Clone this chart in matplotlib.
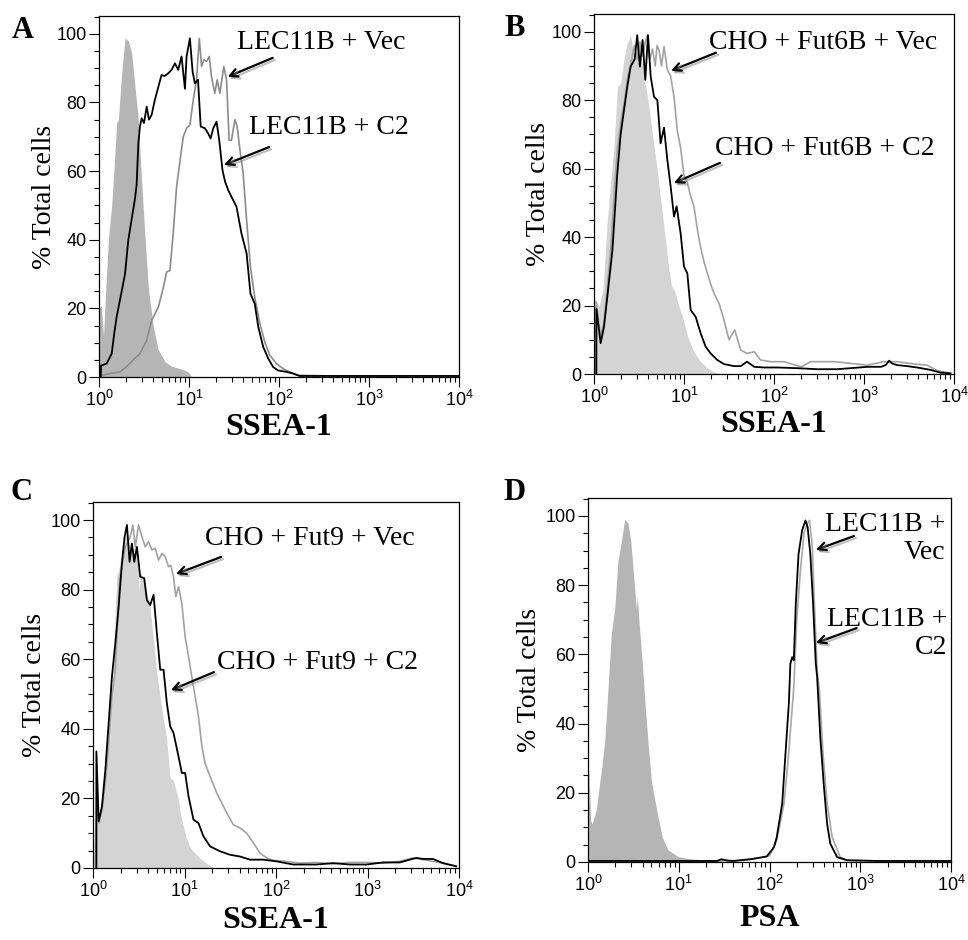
import numpy as np
import matplotlib
matplotlib.use("Agg")
import matplotlib.pyplot as plt
from matplotlib.ticker import LogLocator, MultipleLocator, NullFormatter
import matplotlib.patheffects as pe

plt.rcParams['font.family'] = ['Liberation Sans', 'DejaVu Sans']
plt.rcParams['mathtext.fontset'] = 'custom'
plt.rcParams['mathtext.rm'] = 'Liberation Sans'
plt.rcParams['mathtext.it'] = 'Liberation Sans:italic'
plt.rcParams['mathtext.bf'] = 'Liberation Sans:bold'

# ---------------- data (x as log10 of fluorescence, y as % total cells) --------------
# Panel A
A_fill_lx = [0.0, 0.005, 0.025, 0.05, 0.08, 0.104, 0.141, 0.17, 0.196, 0.215, 0.252, 0.289, 0.326,
             0.363, 0.400, 0.437, 0.474, 0.511, 0.548, 0.603, 0.659, 0.733, 0.80, 0.88, 0.95, 0.991, 1.03]
A_fill_y = [0, 20, 21, 12, 28, 40, 50, 62, 74, 75, 88.6, 98.8, 98, 94.4, 84.6, 75, 57, 41, 26,
            14.7, 7.9, 4.5, 3.2, 2.6, 2.0, 1.5, 0]
A_blk_lx = [0.02, 0.022, 0.085, 0.141, 0.17, 0.196, 0.252, 0.289, 0.326, 0.363, 0.40, 0.418, 0.437,
            0.455, 0.474, 0.50, 0.53, 0.555, 0.585, 0.62, 0.66, 0.695, 0.73, 0.77, 0.806, 0.844, 0.88,
            0.917, 0.955, 0.973, 1.01, 1.04, 1.065, 1.10, 1.13, 1.176, 1.213, 1.24, 1.27, 1.306, 1.336,
            1.372, 1.40, 1.435, 1.472, 1.528, 1.583, 1.64, 1.683, 1.73, 1.77, 1.824, 1.88, 1.935, 1.99,
            2.083, 2.157, 2.23, 2.5, 3.0, 3.5, 3.99]
A_blk_y = [0, 3.3, 3.9, 6.8, 12.8, 17.5, 25, 30, 40, 46, 52, 56, 68, 73, 75.4, 74, 78.8, 75, 76.4,
           80.7, 84.6, 88, 87.7, 88.5, 89.5, 91.4, 89.5, 93.4, 84, 93.4, 98.7, 89, 85.6, 86.6, 73,
           72.5, 71, 69.5, 72.5, 74.4, 69, 60.3, 57, 54.5, 52.5, 49.6, 41.8, 36, 24.3, 21.4, 14.6,
           8.8, 5.4, 2.9, 1.9, 1.5, 1.0, 0.3, 0.3, 0.3, 0.3, 0.3]
A_gry_lx = [0.022, 0.122, 0.233, 0.307, 0.381, 0.455, 0.53, 0.585, 0.66, 0.714, 0.751, 0.788, 0.825,
            0.862, 0.9, 0.936, 0.973, 1.01, 1.047, 1.084, 1.114, 1.14, 1.165, 1.195, 1.225, 1.25,
            1.287, 1.313, 1.343, 1.387, 1.417, 1.446, 1.472, 1.51, 1.535, 1.572, 1.602, 1.64, 1.683,
            1.73, 1.787, 1.842, 1.898, 1.972, 2.046, 2.12, 2.21, 2.6, 3.2, 3.99]
A_gry_y = [0.5, 1, 1.5, 3, 5, 6.8, 10.7, 16.5, 20.4, 26, 30.6, 31, 42, 55.4, 63, 70, 72.5, 73.4,
           80.7, 86.6, 98.7, 90.5, 92.4, 92, 93.4, 87.5, 82.7, 86.6, 82.7, 90.5, 86.6, 69, 69, 75,
           73, 65, 59.3, 45.7, 32, 23.3, 15.6, 10.2, 6.3, 3.9, 2.4, 1.5, 0.5, 0.3, 0.3, 0.3]

# Panel B
B_fill_lx = [0.0, 0.01, 0.03, 0.06, 0.1, 0.148, 0.185, 0.222, 0.26, 0.296, 0.333, 0.37, 0.38, 0.407,
             0.43, 0.46, 0.49, 0.52, 0.55, 0.60, 0.65, 0.70, 0.75, 0.79, 0.83, 0.86, 0.90, 0.94,
             0.98, 1.04, 1.1, 1.17, 1.25, 1.32, 1.4]
B_fill_y = [0, 22, 21, 20, 25, 45, 56, 66.5, 84, 85, 92, 97, 97, 99, 95, 92, 97, 93, 88, 80, 70,
            60, 49, 40, 31, 26, 24, 20, 17, 11, 7, 4, 2, 0.8, 0]
B_blk_lx = [0.026, 0.027, 0.074, 0.111, 0.156, 0.204, 0.259, 0.296, 0.333, 0.37, 0.407, 0.452, 0.48,
            0.51, 0.54, 0.57, 0.6, 0.63, 0.667, 0.704, 0.74, 0.778, 0.815, 0.852, 0.889, 0.918,
            0.963, 1.0, 1.037, 1.074, 1.13, 1.185, 1.24, 1.296, 1.37, 1.444, 1.556, 1.63, 1.70,
            1.78, 1.89, 2.04, 2.26, 2.48, 2.70, 2.85, 3.04, 3.19, 3.24, 3.28, 3.31, 3.37, 3.48,
            3.59, 3.74, 3.85, 3.96]
B_blk_y = [0, 19, 9, 13.8, 24.5, 36, 58.6, 70, 77, 84, 89.8, 92, 99, 89.8, 97.6, 86, 99, 86.9,
           81, 80, 67.4, 72, 62.5, 54.7, 46, 49, 41, 31.4, 29.4, 18.7, 16.7, 11.9, 8, 6, 4.1, 2.9,
           2.3, 2.3, 3.6, 2.1, 1.9, 1.9, 1.7, 1.4, 1.4, 1.7, 2.1, 2.1, 2.6, 3.9, 3.1, 2.6, 2.3,
           1.9, 1.2, 0.4, 0.2]
B_gry_lx = [0.02, 0.025, 0.07, 0.11, 0.15, 0.19, 0.23, 0.26, 0.30, 0.34, 0.37, 0.41, 0.45, 0.48,
            0.51, 0.54, 0.57, 0.593, 0.62, 0.65, 0.68, 0.70, 0.722, 0.75, 0.778, 0.815, 0.852,
            0.889, 0.926, 0.963, 1.0, 1.037, 1.074, 1.11, 1.15, 1.185, 1.22, 1.26, 1.30, 1.333,
            1.39, 1.444, 1.5, 1.563, 1.63, 1.70, 1.78, 1.85, 1.96, 2.11, 2.30, 2.41, 2.67, 2.85,
            3.04, 3.22, 3.37, 3.56, 3.70, 3.81, 3.96]
B_gry_y = [0, 21, 11, 15, 26, 38, 55, 66, 74, 80, 86, 91, 96, 92, 97, 93, 97, 99, 92, 95, 90,
           96, 94.7, 90, 95.7, 88.9, 87, 81, 71, 66, 58, 56, 52, 49, 42, 37, 33, 29.4, 26, 23.6,
           20.6, 15.8, 10, 12.9, 7, 6, 6.5, 4.1, 3.6, 3.6, 2.1, 3.6, 3.6, 3.1, 2.6, 3.6, 3.6, 2.9,
           2.6, 1, 0.2]

# Panel C
C_fill_lx = [0.0, 0.02, 0.06, 0.116, 0.15, 0.189, 0.22, 0.245, 0.26, 0.28, 0.316, 0.36, 0.389,
             0.425, 0.46, 0.49, 0.506, 0.52, 0.56, 0.623, 0.66, 0.696, 0.75, 0.805, 0.84, 0.88,
             0.93, 0.96, 1.02, 1.07, 1.17, 1.25, 1.32]
C_fill_y = [0, 14, 14, 23.4, 30, 38, 55, 75, 84, 85.6, 90.4, 97, 93.3, 91.4, 92, 88, 80, 85, 82,
            75, 66, 56.4, 46, 37.3, 26.1, 25, 20, 15, 8.6, 5.5, 2.8, 1.2, 0]
C_blk_lx = [0.036, 0.037, 0.062, 0.098, 0.135, 0.171, 0.207, 0.244, 0.28, 0.316, 0.345, 0.371, 0.4,
            0.425, 0.451, 0.48, 0.516, 0.56, 0.589, 0.625, 0.662, 0.698, 0.735, 0.771, 0.807,
            0.844, 0.88, 0.935, 0.971, 1.007, 1.044, 1.098, 1.153, 1.207, 1.28, 1.389, 1.498,
            1.607, 1.716, 1.862, 2.007, 2.189, 2.44, 2.625, 2.807, 2.989, 3.171, 3.353, 3.462,
            3.535, 3.607, 3.716, 3.825, 3.97]
C_blk_y = [0, 33.5, 13.4, 17.7, 28.2, 41.6, 55, 64.6, 75, 87.6, 95.2, 98.6, 88, 93.3, 88, 92.3,
           83.7, 83.3, 77, 75.6, 78.5, 67.5, 57, 57, 47.4, 40.7, 38.8, 32, 27.3, 27.3, 20.6, 13.9,
           12.9, 9.1, 6.2, 4.8, 3.8, 3.3, 2.4, 2.4, 1.9, 1, 1, 1.4, 1, 1, 1.6, 1.6, 2.4, 2.9, 2.6,
           2.6, 1.4, 0.5]
C_gry_lx = [0.04, 0.041, 0.065, 0.1, 0.14, 0.18, 0.21, 0.244, 0.29, 0.353, 0.407, 0.436, 0.462,
            0.498, 0.535, 0.571, 0.607, 0.644, 0.68, 0.716, 0.753, 0.789, 0.825, 0.85, 0.88,
            0.905, 0.935, 0.971, 1.007, 1.044, 1.08, 1.116, 1.153, 1.19, 1.225, 1.28, 1.353,
            1.407, 1.462, 1.535, 1.607, 1.68, 1.753, 1.825, 1.898, 1.971, 2.116, 2.26, 2.44,
            2.625, 2.807, 2.989, 3.17, 3.35, 3.5, 3.61, 3.825, 3.97]
C_gry_y = [0, 20, 13, 17, 26, 38, 50, 57, 82.8, 92.3, 95.2, 98.6, 92.3, 98.6, 95.2, 92.3, 93.8,
           91.4, 91.9, 88.5, 90.4, 89.5, 86.6, 87, 83.7, 78, 80.9, 76, 66.5, 60.8, 55, 49.3,
           43.5, 35, 30.1, 26.3, 21.5, 18.7, 15.8, 12.4, 11.5, 10, 7.2, 4.3, 2.9, 2.2, 1.9, 1.4,
           1.6, 1.2, 1.6, 1.6, 1.4, 1.9, 2.9, 2.4, 1.4, 0.5]

# Panel D
D_fill_lx = [0.0, 0.01, 0.03, 0.045, 0.09, 0.15, 0.185, 0.22, 0.257, 0.294, 0.33, 0.37, 0.404,
             0.44, 0.47, 0.496, 0.533, 0.545, 0.56, 0.6, 0.625, 0.66, 0.7, 0.772, 0.82, 0.882,
             0.99, 1.1, 1.3, 1.5]
D_fill_y = [0, 28, 12, 11, 15, 27, 35, 50, 66, 73, 87, 93, 99, 98, 93, 85, 73, 77, 70, 57, 47,
            35, 23, 13, 7, 3.5, 1.6, 1.0, 0.5, 0.3]
D_blk_lx = [0.0, 0.5, 1.0, 1.42, 1.47, 1.53, 1.6, 1.79, 1.88, 1.97, 2.05, 2.08, 2.14, 2.176, 2.213,
            2.23, 2.25, 2.268, 2.29, 2.32, 2.36, 2.396, 2.42, 2.45, 2.48, 2.51, 2.525, 2.56, 2.6,
            2.635, 2.67, 2.745, 2.855, 3.2, 3.6, 3.99]
D_blk_y = [0.3, 0.3, 0.3, 0.3, 0.8, 0.4, 0.3, 0.8, 1.2, 1.6, 4.3, 7.2, 16.9, 31.3, 45.8, 57.3,
           59.2, 58.3, 74.7, 89, 95.9, 98.7, 96.8, 89, 74.7, 57.3, 53.5, 36, 21.7, 11, 5.3, 1.4,
           0.5, 0.3, 0.3, 0.3]
D_gry_lx = [0.0, 0.5, 1.0, 1.45, 1.5, 1.6, 1.8, 1.9, 2.0, 2.08, 2.16, 2.21, 2.268, 2.3, 2.34, 2.38,
            2.415, 2.44, 2.47, 2.495, 2.525, 2.55, 2.59, 2.635, 2.69, 2.78, 2.855, 3.2, 3.6, 3.99]
D_gry_y = [0.3, 0.3, 0.3, 0.3, 0.7, 0.3, 0.8, 1.2, 1.8, 6.3, 16.9, 31, 50.6, 70, 84, 95, 97.8,
           98.7, 92, 74.7, 55.4, 49.6, 31.3, 16.9, 7.2, 1.4, 0.5, 0.3, 0.3, 0.3]

panels = [
    dict(letter='A', fill=(A_fill_lx, A_fill_y), blk=(A_blk_lx, A_blk_y), gry=(A_gry_lx, A_gry_y),
         fillc='#b5b5b5', gryc='#8c8c8c', xlabel='SSEA-1',
         rect=(99, 16, 459, 377), ylab_x=-0.117, xlab_y=-0.10, letter_xy=(23, 30),
         texts=[('LEC11B + Vec', 1.53, 97.4, 'left'), ('LEC11B + C2', 1.665, 72.6, 'left')],
         arrows=[((1.43, 87.5), (1.93, 93.0)), ((1.39, 61.8), (1.89, 67.0))]),
    dict(letter='B', fill=(B_fill_lx, B_fill_y), blk=(B_blk_lx, B_blk_y), gry=(B_gry_lx, B_gry_y),
         fillc='#d4d4d4', gryc='#a3a3a3', xlabel='SSEA-1',
         rect=(594, 14, 954, 374), ylab_x=-0.12, xlab_y=-0.10, letter_xy=(515, 29),
         texts=[('CHO + Fut6B + Vec', 1.278, 96.8, 'left'), ('CHO + Fut6B + C2', 1.344, 66.0, 'left')],
         arrows=[((0.856, 88.6), (1.356, 93.9)), ((0.889, 55.8), (1.40, 61.7))]),
    dict(letter='C', fill=(C_fill_lx, C_fill_y), blk=(C_blk_lx, C_blk_y), gry=(C_gry_lx, C_gry_y),
         fillc='#d4d4d4', gryc='#a3a3a3', xlabel='SSEA-1',
         rect=(93, 502, 459, 868), ylab_x=-0.126, xlab_y=-0.105, letter_xy=(22, 492),
         texts=[('CHO + Fut9 + Vec', 1.224, 94.8, 'left'), ('CHO + Fut9 + C2', 1.355, 59.2, 'left')],
         arrows=[((0.907, 84.5), (1.399, 89.4)), ((0.852, 51.1), (1.322, 56.3))]),
    dict(letter='D', fill=(D_fill_lx, D_fill_y), blk=(D_blk_lx, D_blk_y), gry=(D_gry_lx, D_gry_y),
         fillc='#b5b5b5', gryc='#a8a8a8', xlabel='PSA',
         rect=(588, 498, 951, 862), ylab_x=-0.127, xlab_y=-0.115, letter_xy=(515, 493),
         texts=[('LEC11B +\nVec', 3.94, 93.4, 'right'), ('LEC11B +\nC2', 3.96, 66.0, 'right')],
         arrows=[((2.512, 90.2), (2.93, 94.2)), ((2.512, 63.3), (2.96, 67.6))]),
]

W, H = 968, 940
fig = plt.figure(figsize=(W / 100, H / 100), dpi=100)
serif = ['Liberation Serif', 'DejaVu Serif']

for p in panels:
    l, t, r, b = p['rect']
    ax = fig.add_axes([l / W, 1 - b / H, (r - l) / W, (b - t) / H])
    fx = 10 ** np.array(p['fill'][0])
    ax.fill_between(fx, 0, p['fill'][1], color=p['fillc'], lw=0, zorder=1)
    ax.plot(10 ** np.array(p['gry'][0]), p['gry'][1], color=p['gryc'], lw=1.2, zorder=2)
    ax.plot(10 ** np.array(p['blk'][0]), p['blk'][1], color='black', lw=1.3, zorder=3)

    ax.set_xscale('log')
    ax.set_xlim(1, 1e4)
    ax.set_ylim(0, 105.2)
    ax.xaxis.set_major_locator(LogLocator(base=10, numticks=10))
    ax.xaxis.set_minor_locator(LogLocator(base=10, subs=np.arange(2, 10), numticks=50))
    ax.xaxis.set_minor_formatter(NullFormatter())
    ax.yaxis.set_major_locator(MultipleLocator(20))
    ax.yaxis.set_minor_locator(MultipleLocator(5))
    ax.tick_params(which='major', direction='out', length=7, width=0.8, pad=2, labelsize=13)
    ax.tick_params(which='minor', direction='out', length=3.8, width=0.8)
    for s in ax.spines.values():
        s.set_linewidth(0.9)

    ax.set_ylabel('% Total cells', family=serif, fontsize=20)
    ax.yaxis.set_label_coords(p['ylab_x'], 0.5)
    ax.set_xlabel(p['xlabel'], family=serif, fontsize=23, fontweight='bold')
    ax.xaxis.set_label_coords(0.5, p['xlab_y'])

    for txt, lx, yv, ha in p['texts']:
        ax.text(10 ** lx, yv, txt, family=serif, fontsize=20, ha=ha, va='center',
                multialignment=ha, linespacing=1.15, zorder=5)
    for (tip, tail) in p['arrows']:
        ax.annotate('', xy=(10 ** tip[0], tip[1]), xytext=(10 ** tail[0], tail[1]),
                    arrowprops=dict(arrowstyle='->,head_length=0.55,head_width=0.28', lw=1.6,
                                    color='black', shrinkA=0, shrinkB=0,
                                    path_effects=[pe.SimpleLineShadow(offset=(1.5, -1.5),
                                                                      shadow_color='gray', alpha=0.5),
                                                  pe.Normal()]),
                    zorder=6)

    lxp, lyp = p['letter_xy']
    fig.text(lxp / W, 1 - lyp / H, p['letter'], family=serif, fontsize=22, fontweight='bold',
             ha='center', va='center')

fig.savefig('out.png', dpi=100)
